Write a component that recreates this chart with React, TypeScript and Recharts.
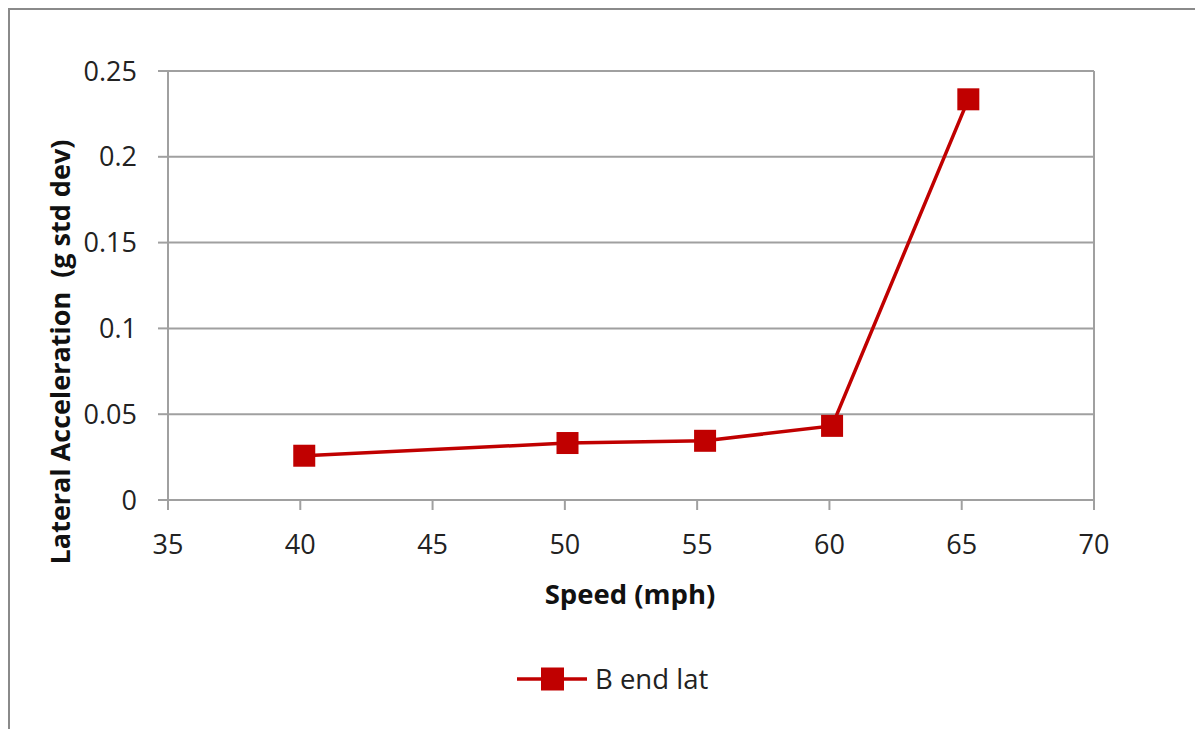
import React from 'react';
import { LineChart, Line, XAxis, YAxis, CartesianGrid, ReferenceLine, Legend, Label } from 'recharts';

const speeds = [40.15, 50.1, 55.3, 60.1, 65.25];
const bEndLat = [0.0258, 0.0332, 0.0345, 0.0432, 0.2335];
const xTicks = [35, 40, 45, 50, 55, 60, 65, 70];
const yTicks = [0, 0.05, 0.1, 0.15, 0.2, 0.25];
const seriesName = 'B end lat';
const xTitle = 'Speed (mph)';
const yTitle = 'Lateral Acceleration  (g std dev)';

const data = speeds.map((s, i) => ({ speed: s, value: bEndLat[i] }));

const RED = '#C00000';
const GRID = '#A0A0A0';
const FONT = '"Open Sans", sans-serif';

const SquareDot = (props: any) => {
  const { cx, cy, index } = props;
  if (cx == null || cy == null) return null;
  return <rect key={`d-${index}`} x={cx - 11} y={cy - 11} width={22} height={22} fill={RED} />;
};

const LegendContent = () => (
  <svg width={260} height={40}>
    <line x1={4} y1={20} x2={74} y2={20} stroke={RED} strokeWidth={3.5} />
    <rect x={28} y={8.5} width={23} height={23} fill={RED} />
    <text x={82} y={20} dy="0.355em" fontFamily={FONT} fontSize={27.5} fill="#222">{seriesName}</text>
  </svg>
);

export default function App() {
  return (
    <div style={{ position: 'relative', width: 1195, height: 721, background: '#fff' }}>
      <LineChart
        width={1195}
        height={721}
        data={data}
        margin={{ top: 63, right: 109, bottom: 149, left: 100 }}
      >
        <CartesianGrid vertical={false} stroke={GRID} strokeWidth={2} />
        <XAxis
          dataKey="speed"
          type="number"
          domain={[35, 70]}
          ticks={xTicks}
          interval={0}
          height={40}
          stroke={GRID}
          strokeWidth={2}
          tickSize={10}
          tickMargin={25}
          tick={{ fill: '#222', fontSize: 27, fontFamily: FONT }}
        >
          <Label
            content={(p: any) => {
              const vb = p.viewBox;
              return (
                <text x={vb.x + vb.width / 2 - 1} y={vb.y + 104} textAnchor="middle" fontFamily={FONT} fontSize={27.5} fontWeight="bold" fill="#111">
                  {xTitle}
                </text>
              );
            }}
          />
        </XAxis>
        <YAxis
          type="number"
          domain={[0, 0.25]}
          ticks={yTicks}
          interval={0}
          width={60}
          stroke={GRID}
          strokeWidth={2}
          tickSize={10}
          tickMargin={21}
          tick={{ fill: '#222', fontSize: 27, fontFamily: FONT }}
        >
          <Label
            content={() => (
              <text
                x={52}
                y={344}
                transform="rotate(-90 52 344)"
                textAnchor="middle"
                dy="0.355em"
                fontFamily={FONT}
                fontSize={27}
                fontWeight="bold"
                fill="#111"
                style={{ whiteSpace: 'pre' }}
              >
                {yTitle}
              </text>
            )}
          />
        </YAxis>
        <ReferenceLine x={70} stroke={GRID} strokeWidth={2} />
        <Legend
          content={<LegendContent />}
          wrapperStyle={{ position: 'absolute', left: 505, top: 651, width: 260, height: 40 }}
        />
        <Line
          type="linear"
          dataKey="value"
          name={seriesName}
          stroke={RED}
          strokeWidth={3.5}
          dot={<SquareDot />}
          activeDot={false}
          isAnimationActive={false}
        />
      </LineChart>
      <div
        style={{
          position: 'absolute',
          left: 0,
          top: 0,
          width: 1200,
          height: 730,
          borderTop: '2px solid #8a8a8a',
          borderLeft: '2px solid #8a8a8a',
          pointerEvents: 'none',
          boxSizing: 'border-box',
        }}
      />
    </div>
  );
}
